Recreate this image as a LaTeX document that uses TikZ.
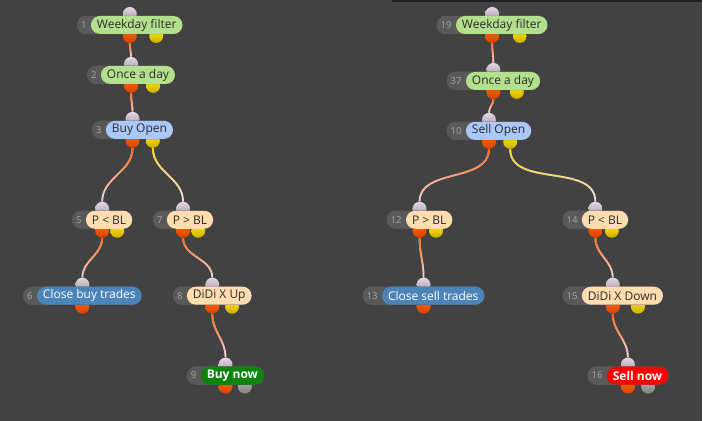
\documentclass[tikz,border=0pt]{standalone}
\usepackage{fontspec}
\setmainfont{Open Sans}
\usetikzlibrary{calc,fadings}
\definecolor{canvas}{HTML}{424242}
\definecolor{rim}{HTML}{1F1F1F}
\definecolor{tagbg}{HTML}{595959}
\definecolor{tagtxt}{HTML}{A8A8A8}
\definecolor{labeltxt}{HTML}{2B2B2B}
\definecolor{filtergreen}{HTML}{B3E08C}
\definecolor{openblue}{HTML}{AAC9FA}
\definecolor{condpeach}{HTML}{FFDDAE}
\definecolor{closeblue}{HTML}{4A84B8}
\definecolor{buygreen}{HTML}{0A850A}
\definecolor{sellred}{HTML}{FF0000}
\definecolor{wirehot}{HTML}{FF6608}
\definecolor{wiregold}{HTML}{F7D21E}
\definecolor{wirecool}{HTML}{F3DDE8}
\definecolor{portlt}{HTML}{E4D8E4}
\definecolor{portdk}{HTML}{A595A8}
\pgfdeclarelayer{board}
\pgfdeclarelayer{wires}
\pgfdeclarelayer{ports}
\pgfdeclarelayer{tags}
\pgfsetlayers{board,wires,ports,tags,main}
\tikzfading[name=wirefade, top color=transparent!0, middle color=transparent!20,
            bottom color=transparent!100]
\tikzset{
  pill/.style={rounded corners=9pt, minimum height=18pt, inner xsep=6pt, inner ysep=0pt,
               font=\fontsize{12}{14}\selectfont, text=labeltxt},
  filterbox/.style={pill, fill=filtergreen},
  openbox/.style={pill, fill=openblue},
  condbox/.style={pill, fill=condpeach},
  closebox/.style={pill, fill=closeblue, text=white},
  buybox/.style={pill, fill=buygreen, text=white, font=\fontsize{12}{14}\selectfont\bfseries},
  sellbox/.style={pill, fill=sellred, text=white, font=\fontsize{12}{14}\selectfont\bfseries},
  tag/.style={inner xsep=4pt, inner ysep=0pt, minimum height=18pt,
              font=\fontsize{9.5}{11}\selectfont, text=tagtxt},
  port/.style={circle, inner sep=0pt, minimum size=14pt},
  inport/.style={port, top color=portlt, bottom color=portdk},
  hotport/.style={port, top color=orange!80!red, bottom color=orange!60!red!85!black},
  goldport/.style={port, top color=yellow!85!orange, bottom color=yellow!70!orange!80!black},
  greyport/.style={port, top color=black!30, bottom color=black!50},
  wire/.style={line width=1.8pt}
}
% one block = number tag + label pill + ports
\newcommand{\block}[7]{%
  \node[tag, anchor=west] (#1-tag) at (#2,#3) {#4};
  \node[#6, anchor=west] (#1) at (#1-tag.east) {#5};
  \begin{pgfonlayer}{tags}
    \fill[tagbg, rounded corners=9pt] (#1-tag.north west) rectangle (#1.south east);
  \end{pgfonlayer}
  \coordinate (#1-mid) at ($(#1-tag.west)!0.5!(#1.east)$);
  \coordinate (#1-side) at ($(#1-tag.west)!0.75!(#1.east)$);
  \begin{pgfonlayer}{ports}
    \node[inport] (#1-in) at ([yshift=11pt]#1-mid) {};
    \node[hotport] (#1-out) at ([yshift=-11pt]#1-mid) {};
    \if\relax\detokenize{#7}\relax\else
      \node[#7] (#1-alt) at ([yshift=-11pt]#1-side) {};
    \fi
  \end{pgfonlayer}}

\begin{document}
\begin{tikzpicture}[x=1pt,y=-1pt]
  \begin{pgfonlayer}{board}
    \fill[canvas] (0,0) rectangle (703,421);
    \draw[rim, line width=1.5pt] (392,0.75) -- (703,0.75);
  \end{pgfonlayer}

  % buy side
  \block{b1}{77}{25}{1}{Weekday filter}{filterbox}{goldport}
  \block{b2}{87}{75}{2}{Once a day}{filterbox}{goldport}
  \block{b3}{92}{130}{3}{Buy Open}{openbox}{goldport}
  \block{b5}{72}{220}{5}{P < BL}{condbox}{goldport}
  \block{b7}{153}{220}{7}{P > BL}{condbox}{goldport}
  \block{b6}{23}{296}{6}{Close buy trades}{closebox}{}
  \block{b8}{173}{296}{8}{DiDi X Up}{condbox}{goldport}
  \block{b9}{187}{376}{9}{Buy now}{buybox}{greyport}

  % sell side
  \block{b19}{437}{25}{19}{Weekday filter}{filterbox}{goldport}
  \block{b37}{447}{81}{37}{Once a day}{filterbox}{goldport}
  \block{b10}{447}{131}{10}{Sell Open}{openbox}{goldport}
  \block{b12}{387}{220}{12}{P > BL}{condbox}{goldport}
  \block{b14}{563}{220}{14}{P < BL}{condbox}{goldport}
  \block{b13}{363}{296}{13}{Close sell trades}{closebox}{}
  \block{b15}{563}{296}{15}{DiDi X Down}{condbox}{goldport}
  \block{b16}{588}{376}{16}{Sell now}{sellbox}{greyport}

  \begin{pgfonlayer}{wires}
    \foreach \a/\b in {b1/b2, b2/b3, b3/b5, b5/b6, b7/b8, b8/b9,
                       b19/b37, b37/b10, b10/b12, b12/b13, b14/b15, b15/b16} {
      \draw[wire, wirecool] (\a-out) to[out=-90,in=90] (\b-in);
      \draw[wire, wirehot, path fading=wirefade] (\a-out) to[out=-90,in=90] (\b-in);
    }
    \foreach \a/\b in {b3/b7, b10/b14} {
      \draw[wire, wirecool] (\a-alt) to[out=-90,in=90] (\b-in);
      \draw[wire, wiregold, path fading=wirefade] (\a-alt) to[out=-90,in=90] (\b-in);
    }
  \end{pgfonlayer}
\end{tikzpicture}
\end{document}
